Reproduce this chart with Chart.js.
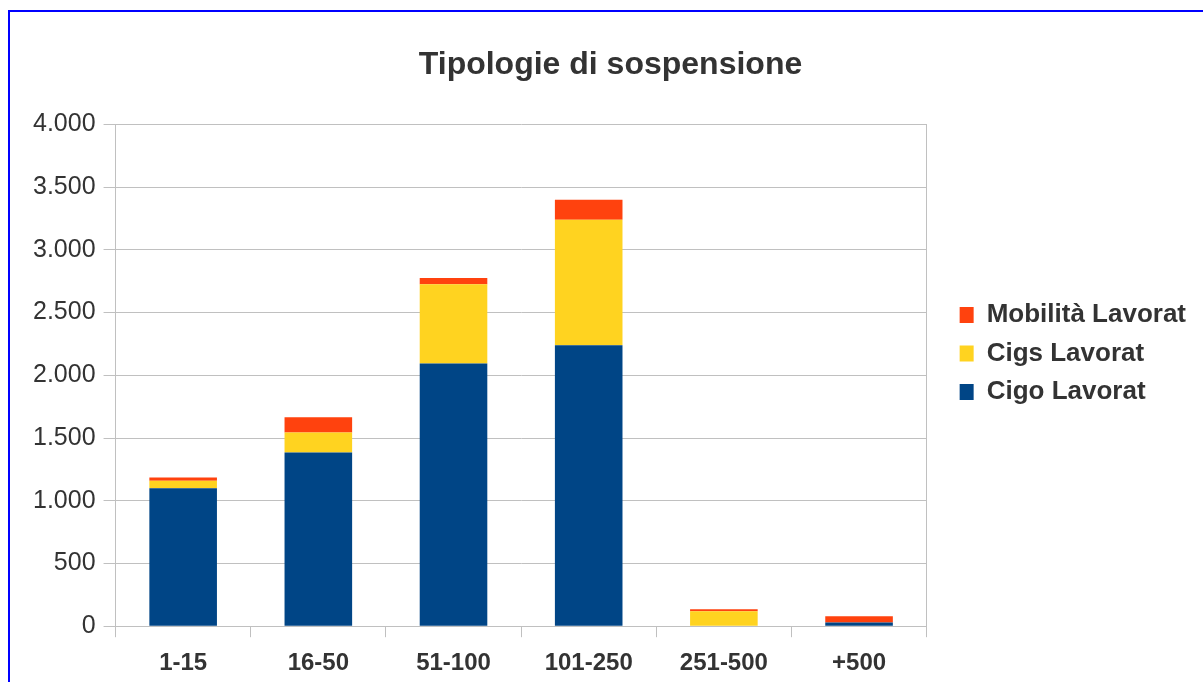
<!DOCTYPE html>
<html>
<head>
<meta charset="utf-8">
<script src="https://cdn.jsdelivr.net/npm/chart.js@4"></script>
<style>
  html, body { margin: 0; padding: 0; background: #fff; overflow: hidden; }
  #wrap { position: relative; width: 1203px; height: 682px; }
  #frame { position: absolute; left: 8px; top: 10px; width: 1300px; height: 800px;
           border: 2px solid #0000ff; pointer-events: none; }
</style>
</head>
<body>
<div id="wrap">
  <canvas id="chart" width="1203" height="682"></canvas>
  <div id="frame"></div>
</div>
<script>
// --- dati ---
const categorie = ['1-15', '16-50', '51-100', '101-250', '251-500', '+500'];
const cigoLavorat = [1100, 1385, 2095, 2240, 0, 30];
const cigsLavorat = [60, 160, 630, 1000, 120, 0];
const mobilitaLavorat = [25, 120, 50, 160, 15, 50];
const tickY = [0, 500, 1000, 1500, 2000, 2500, 3000, 3500, 4000];

const GRIGIO = '#c0c0c0';
const TESTO = '#333333';
const FONT = '"Liberation Sans", Arial, sans-serif';

// separatore delle migliaia all'italiana
const formatta = v => String(v).replace(/\B(?=(\d{3})+(?!\d))/g, '.');

const ctx = document.getElementById('chart').getContext('2d');
new Chart(ctx, {
    type: 'bar',
    data: {
        labels: categorie,
        datasets: [
            { label: 'Cigo Lavorat', data: cigoLavorat, backgroundColor: '#004586', borderWidth: 0 },
            { label: 'Cigs Lavorat', data: cigsLavorat, backgroundColor: '#ffd320', borderWidth: 0 },
            { label: 'Mobilità Lavorat', data: mobilitaLavorat, backgroundColor: '#ff420e', borderWidth: 0 }
        ]
    },
    options: {
        responsive: false,
        animation: false,
        barPercentage: 0.5,
        categoryPercentage: 1,
        layout: { padding: { left: 25, top: 12, right: 7, bottom: -8 } },
        scales: {
            x: {
                stacked: true,
                grid: { drawOnChartArea: false, tickColor: GRIGIO, tickLength: 11, offset: true },
                border: { display: true, color: GRIGIO },
                ticks: { color: TESTO, padding: 12, font: { family: FONT, size: 24, weight: 'bold' } }
            },
            y: {
                stacked: true,
                min: 0,
                max: 4000,
                afterBuildTicks: scale => { scale.ticks = tickY.map(v => ({ value: v })); },
                grid: { color: GRIGIO, tickColor: GRIGIO, tickLength: 12 },
                border: { display: true, color: GRIGIO },
                ticks: { color: TESTO, padding: 8, font: { family: FONT, size: 25 }, callback: v => formatta(v) }
            },
            // solo per il bordo destro dell'area del grafico
            y2: {
                position: 'right',
                display: true,
                grid: { display: false },
                border: { display: true, color: GRIGIO },
                ticks: { display: false },
                afterFit: scale => { scale.width = 20.5; }
            }
        },
        plugins: {
            title: {
                display: true,
                text: 'Tipologie di sospensione',
                color: TESTO,
                font: { family: FONT, size: 32, weight: 'bold' },
                padding: { top: 34, bottom: 40 }
            },
            legend: {
                position: 'right',
                reverse: true,
                maxWidth: 400,
                title: { display: true, text: ' ', padding: 0, font: { size: 4 } },
                labels: {
                    color: TESTO,
                    boxWidth: 14,
                    boxHeight: 16,
                    padding: 12.5,
                    font: { family: FONT, size: 26, weight: 'bold' }
                }
            },
            tooltip: { enabled: false }
        }
    }
});
</script>
</body>
</html>
